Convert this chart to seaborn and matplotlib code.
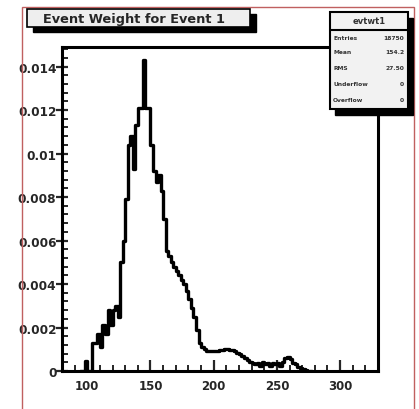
import numpy as np
import pandas as pd
import matplotlib
matplotlib.use("Agg")
import matplotlib.pyplot as plt
import matplotlib.patches as mpatches
from matplotlib.ticker import MultipleLocator, FuncFormatter
import seaborn as sns

# ---- data (bin heights) ----
bin_start = 94
bin_width = 2
heights = [0, 0, 0.45, 0, 0, 1.3, 1.3, 1.7, 1.1, 2.1, 1.7, 2.8, 2.1, 2.8, 3.0, 2.5,
           5.0, 6.0, 7.9, 10.4, 10.8, 9.3, 11.3, 12.1, 12.1, 14.3, 12.1, 12.1, 10.4,
           9.2, 8.7, 9.0, 8.3, 7.0, 5.5, 5.3, 5.0, 4.8, 4.6, 4.4, 4.2, 4.0, 3.7, 3.3,
           2.9, 2.5, 1.9, 1.3, 1.1, 1.0, 0.92, 0.9, 0.9, 0.9, 0.92, 0.95, 0.97, 1.0,
           1.0, 0.98, 0.95, 0.9, 0.85, 0.78, 0.7, 0.6, 0.5, 0.42, 0.35, 0.3, 0.35,
           0.25, 0.4, 0.3, 0.35, 0.22, 0.38, 0.3, 0.35, 0.25, 0.4, 0.6, 0.65, 0.55,
           0.35, 0.3, 0.2, 0.15, 0.1, 0.05, 0, 0]
height_scale = 1e-3
x_ticks = [100, 150, 200, 250, 300]
y_ticks = [0, 0.002, 0.004, 0.006, 0.008, 0.01, 0.012, 0.014]
title = "Event Weight for Event 1"
stats_name = "evtwt1"
stats_labels = ["Entries", "Mean", "RMS", "Underflow", "Overflow"]
stats_values = ["18750", "154.2", "27.50", "0", "0"]

sns.set_style("ticks")
plt.rcParams['font.family'] = ['DejaVu Sans']

W, H = 419, 410
fig = plt.figure(figsize=(W / 100, H / 100), dpi=100)
fig.patch.set_facecolor("white")


def fx(px):
    return px / W


def fy(py):
    return 1 - py / H


# axes frame
ax_l, ax_r, ax_t, ax_b = 62, 378, 48, 372
ax = fig.add_axes([fx(ax_l), fy(ax_b), fx(ax_r) - fx(ax_l), fy(ax_t) - fy(ax_b)])

n_bins = len(heights)
df = pd.DataFrame({"x": bin_start + bin_width * (np.arange(n_bins) + 0.5),
                   "w": np.array(heights) * height_scale})
sns.histplot(data=df, x="x", weights="w", binwidth=bin_width,
             binrange=(bin_start, bin_start + bin_width * n_bins),
             element="step", fill=False, color="black", linewidth=2.4, ax=ax)

ax.set_xlim(80, 330)
ax.set_ylim(0, 0.0149)
ax.set_xlabel("")
ax.set_ylabel("")
ax.set_xticks(x_ticks)
ax.set_yticks(y_ticks)
ax.xaxis.set_minor_locator(MultipleLocator(10))
ax.yaxis.set_minor_locator(MultipleLocator(0.0004))


def yfmt(v, pos):
    if abs(v) < 1e-12:
        return "0"
    return ("%.3f" % v).rstrip("0")


ax.yaxis.set_major_formatter(FuncFormatter(yfmt))
for s in ax.spines.values():
    s.set_linewidth(2.2)
    s.set_color("black")
ax.tick_params(axis="x", which="major", direction="in", length=8, width=1.6,
               labelsize=8.5, pad=6, top=False)
ax.tick_params(axis="x", which="minor", direction="in", length=4, width=1.4, top=False)
ax.tick_params(axis="y", which="major", direction="inout", length=8, width=1.6,
               labelsize=8.7, pad=0, right=False)
ax.tick_params(axis="y", which="minor", direction="in", length=4, width=1.4, right=False)
for lab in ax.get_xticklabels() + ax.get_yticklabels():
    lab.set_fontweight("bold")

# outer red frame
fig.add_artist(mpatches.Rectangle((fx(22), fy(412)), fx(414) - fx(22), fy(8) - fy(412),
                                  transform=fig.transFigure, fill=False,
                                  edgecolor="#c06060", linewidth=1.0, zorder=1))

# title box with shadow
tl, tr, tt, tb = 27, 250, 10, 28
sh = 6
fig.add_artist(mpatches.Rectangle((fx(tl + sh), fy(tb + sh - 1)), fx(tr) - fx(tl), fy(tt) - fy(tb),
                                  transform=fig.transFigure, facecolor="black",
                                  edgecolor="black", zorder=5))
fig.add_artist(mpatches.Rectangle((fx(tl), fy(tb)), fx(tr) - fx(tl), fy(tt) - fy(tb),
                                  transform=fig.transFigure, facecolor="#eeeeee",
                                  edgecolor="black", linewidth=1.2, zorder=6))
fig.text(fx(134), fy((tt + tb) / 2), title, ha="center", va="center",
         fontsize=9.3, fontweight="bold", zorder=7)

# stats box with shadow
sl, sr, st, sb = 330, 408, 13, 110
fig.add_artist(mpatches.Rectangle((fx(sl + 5), fy(sb + 6)), fx(sr) - fx(sl), fy(st) - fy(sb),
                                  transform=fig.transFigure, facecolor="black",
                                  edgecolor="black", zorder=5))
fig.add_artist(mpatches.Rectangle((fx(sl), fy(sb)), fx(sr) - fx(sl), fy(st) - fy(sb),
                                  transform=fig.transFigure, facecolor="#f2f2f2",
                                  edgecolor="black", linewidth=1.5, zorder=6))
fig.add_artist(plt.Line2D([fx(sl), fx(sr)], [fy(31), fy(31)], transform=fig.transFigure,
                          color="black", linewidth=1.5, zorder=7))
fig.text(fx((sl + sr) / 2), fy(22), stats_name, ha="center", va="center",
         fontsize=6, fontweight="bold", color="#333333", zorder=8)
row_y = [38, 53, 68, 84, 100]
for lab, val, yy in zip(stats_labels, stats_values, row_y):
    fig.text(fx(sl + 3), fy(yy), lab, ha="left", va="center", fontsize=4.3,
             fontweight="bold", color="#333333", zorder=8)
    fig.text(fx(sr - 4), fy(yy), val, ha="right", va="center", fontsize=4.3,
             fontweight="bold", color="#333333", zorder=8)

fig.savefig("out.png", dpi=100)
